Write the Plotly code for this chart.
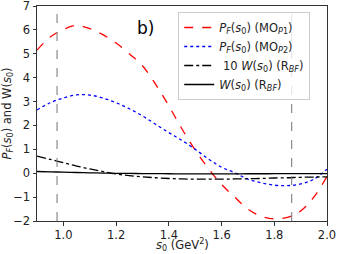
import plotly.graph_objects as go

s0 = [0.90, 0.95, 1.00, 1.05, 1.10, 1.15, 1.20, 1.25, 1.30, 1.35, 1.40, 1.45,
      1.50, 1.55, 1.60, 1.65, 1.70, 1.75, 1.80, 1.85, 1.90, 1.95, 2.00]
pf_mo1 = [5.15, 5.70, 6.02, 6.19, 6.05, 5.80, 5.45, 5.00, 4.50, 3.72, 2.82, 1.85,
          0.97, 0.20, -0.47, -1.00, -1.50, -1.80, -1.91, -1.85, -1.58, -1.00, -0.14]
pf_mo2 = [2.65, 2.95, 3.15, 3.28, 3.27, 3.15, 2.95, 2.70, 2.40, 2.05, 1.70, 1.37,
          1.00, 0.60, 0.25, 0.02, -0.25, -0.40, -0.50, -0.52, -0.45, -0.25, 0.17]
w10 = [0.72, 0.58, 0.44, 0.30, 0.18, 0.07, -0.03, -0.10, -0.15, -0.19, -0.22, -0.24,
       -0.25, -0.25, -0.25, -0.24, -0.23, -0.22, -0.20, -0.19, -0.17, -0.16, -0.15]
w = [v / 10 for v in w10]
vlines = [0.976, 1.866]

names = [
    "<i>P<sub>F</sub></i>(<i>s</i><sub>0</sub>) (MO<sub><i>P</i>1</sub>)",
    "<i>P<sub>F</sub></i>(<i>s</i><sub>0</sub>) (MO<sub><i>P</i>2</sub>)",
    " 10 <i>W</i>(<i>s</i><sub>0</sub>) (R<sub><i>BF</i></sub>)",
    "<i>W</i>(<i>s</i><sub>0</sub>) (R<sub><i>BF</i></sub>)",
]

fig = go.Figure()
fig.add_trace(go.Scatter(x=s0, y=pf_mo1, mode="lines", name=names[0],
                         line=dict(color="red", dash="dash", width=1.3, shape="spline")))
fig.add_trace(go.Scatter(x=s0, y=pf_mo2, mode="lines", name=names[1],
                         line=dict(color="blue", dash="dot", width=1.3, shape="spline")))
fig.add_trace(go.Scatter(x=s0, y=w10, mode="lines", name=names[2],
                         line=dict(color="black", dash="dashdot", width=1.3, shape="spline")))
fig.add_trace(go.Scatter(x=s0, y=w, mode="lines", name=names[3],
                         line=dict(color="black", width=1.3, shape="spline")))

for xv in vlines:
    fig.add_shape(type="line", x0=xv, x1=xv, y0=0, y1=1, xref="x", yref="paper",
                  line=dict(color="gray", dash="dash", width=1.1))

fig.add_annotation(x=1.31, y=6.08, text="b)", showarrow=False,
                   font=dict(size=17, color="black"))
fig.add_annotation(x=0.5, y=-0.068, xref="paper", yref="paper", yanchor="top",
                   text="<i>s</i><sub>0</sub> (GeV<sup>2</sup>)", showarrow=False,
                   font=dict(size=11.5, color="#222"), borderpad=0)

axis_common = dict(showline=True, linecolor="#333", linewidth=1, mirror=True,
                   ticks="outside", ticklen=3.5, tickcolor="#333", showgrid=False,
                   zeroline=False, tickfont=dict(size=11.5, color="#222"),
                   automargin=False, ticklabeloverflow="allow")
fig.update_xaxes(range=[0.9, 2.0], tickvals=[1.0, 1.2, 1.4, 1.6, 1.8, 2.0],
                 ticktext=["1.0", "1.2", "1.4", "1.6", "1.8", "2.0"], **axis_common)
fig.update_yaxes(range=[-2, 7], tickvals=list(range(-2, 8)),
                 ticktext=["\u22122", "\u22121", "0", "1", "2", "3", "4", "5", "6", "7"],
                 title=dict(text="<i>P<sub>F</sub></i>(<i>s</i><sub>0</sub>) and W(<i>s</i><sub>0</sub>)",
                            font=dict(size=11.5), standoff=2), **axis_common)

fig.update_layout(
    width=337, height=254,
    margin=dict(l=37, r=10, t=6, b=33),
    plot_bgcolor="white", paper_bgcolor="white",
    font=dict(family="DejaVu Sans", color="#222"),
    legend=dict(x=0.487, y=0.972, xanchor="left", yanchor="top",
                bgcolor="rgba(255,255,255,0.8)", bordercolor="#ccc", borderwidth=1,
                font=dict(size=11.5), tracegroupgap=0, itemwidth=30),
    showlegend=True,
)

fig.write_html("out.html", config={"displayModeBar": False},
               post_script="document.body.style.margin='0';document.body.style.overflow='hidden';")
